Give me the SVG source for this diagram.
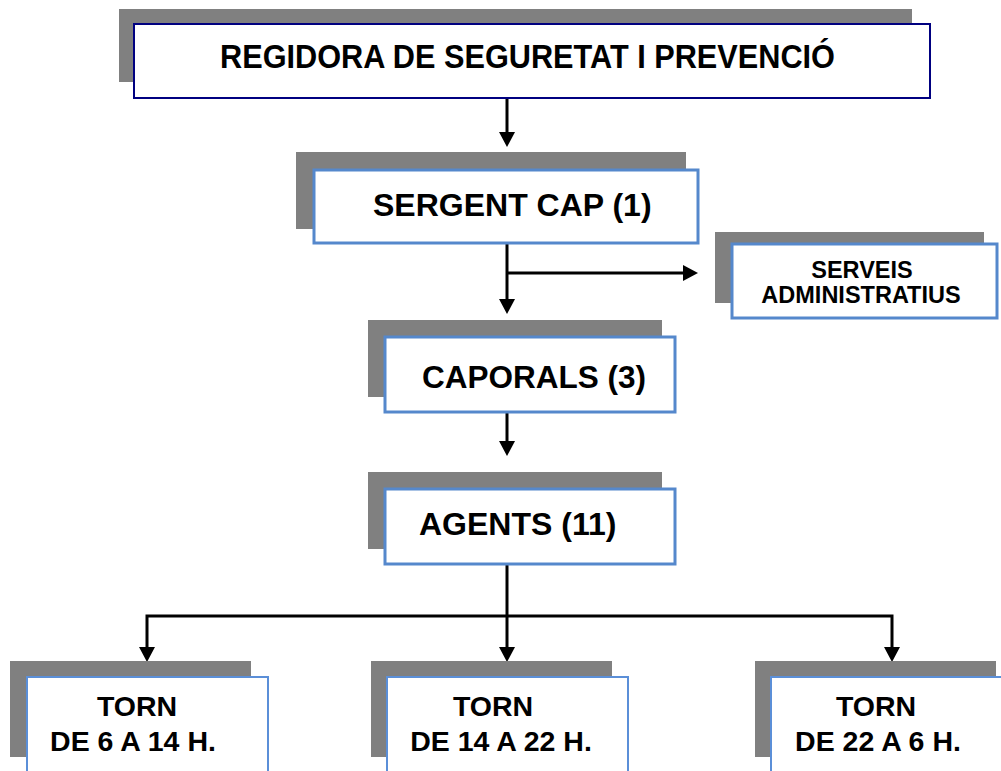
<svg xmlns="http://www.w3.org/2000/svg" width="1001" height="771" viewBox="0 0 1001 771">
<style>
.shadow{fill:#808080}
.box{fill:#ffffff;stroke:#5588cc;stroke-width:3}
.top{fill:#ffffff;stroke:#000080;stroke-width:2}
.thin{fill:#ffffff;stroke:#5b8fd8;stroke-width:2}
.t{font-family:"Liberation Sans",Arial,sans-serif;font-weight:bold;fill:#000000}
.c{fill:none;stroke:#000000;stroke-width:3}
</style>
<defs>
<marker id="ah" viewBox="0 0 15 16" refX="1" refY="8" markerWidth="15" markerHeight="16" markerUnits="userSpaceOnUse" orient="auto">
<path d="M0,0 L15,8 L0,16 z" fill="#000000"/>
</marker>
</defs>
<rect width="1001" height="771" fill="#ffffff"/>
<g id="connectors">
<path class="c" d="M507,98 V133" marker-end="url(#ah)"/>
<path class="c" d="M507,243 V300" marker-end="url(#ah)"/>
<path class="c" d="M507,273 H684" marker-end="url(#ah)"/>
<path class="c" d="M507,412 V442" marker-end="url(#ah)"/>
<path class="c" d="M507,564 V648" marker-end="url(#ah)"/>
<path class="c" d="M507,616 H147 V648" marker-end="url(#ah)"/>
<path class="c" d="M507,616 H892 V648" marker-end="url(#ah)"/>
</g>
<g id="regidora">
<rect class="shadow" x="119" y="9" width="793" height="73"/>
<rect class="top" x="134" y="24" width="796" height="74"/>
<text class="t" x="220" y="68" font-size="33" textLength="615" lengthAdjust="spacingAndGlyphs">REGIDORA DE SEGURETAT I PREVENCIÓ</text>
</g>
<g id="sergent">
<rect class="shadow" x="296" y="152" width="390" height="77"/>
<rect class="box" x="314" y="170" width="384" height="73"/>
<text class="t" x="373" y="216" font-size="32">SERGENT CAP (1)</text>
</g>
<g id="serveis">
<rect class="shadow" x="715" y="232" width="269" height="71"/>
<rect class="box" x="732" y="244" width="265" height="74"/>
<text class="t" x="862" y="278" font-size="23.5" text-anchor="middle">SERVEIS</text>
<text class="t" x="861" y="303" font-size="23.5" text-anchor="middle">ADMINISTRATIUS</text>
</g>
<g id="caporals">
<rect class="shadow" x="368" y="320" width="294" height="77"/>
<rect class="box" x="385" y="337" width="290" height="75"/>
<text class="t" x="422" y="388" font-size="31.5">CAPORALS (3)</text>
</g>
<g id="agents">
<rect class="shadow" x="368" y="472" width="294" height="77"/>
<rect class="box" x="385" y="489" width="290" height="75"/>
<text class="t" x="419" y="535" font-size="32">AGENTS (11)</text>
</g>
<g id="torn1">
<rect class="shadow" x="10" y="661" width="241" height="96"/>
<rect class="thin" x="27" y="677" width="241" height="110"/>
<text class="t" x="137" y="716" font-size="28.5" text-anchor="middle">TORN</text>
<text class="t" x="133" y="751" font-size="28.5" text-anchor="middle">DE 6 A 14 H.</text>
</g>
<g id="torn2">
<rect class="shadow" x="371" y="661" width="241" height="96"/>
<rect class="thin" x="387" y="677" width="241" height="110"/>
<text class="t" x="493" y="716" font-size="28.5" text-anchor="middle">TORN</text>
<text class="t" x="501" y="751" font-size="28.5" text-anchor="middle">DE 14 A 22 H.</text>
</g>
<g id="torn3">
<rect class="shadow" x="755" y="661" width="241" height="96"/>
<rect class="thin" x="771" y="677" width="241" height="110"/>
<text class="t" x="876" y="716" font-size="28.5" text-anchor="middle">TORN</text>
<text class="t" x="878" y="751" font-size="28.5" text-anchor="middle">DE 22 A 6 H.</text>
</g>
</svg>
